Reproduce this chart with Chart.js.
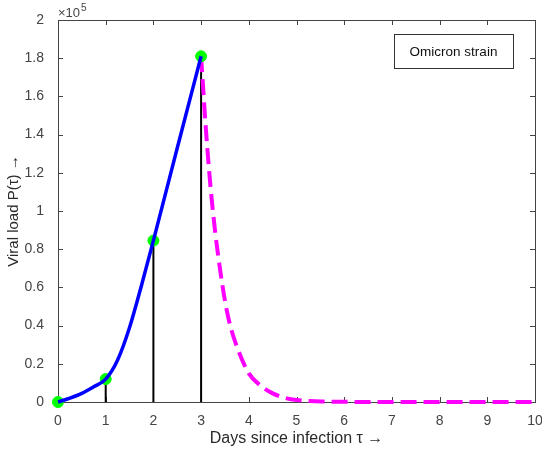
<!DOCTYPE html>
<html>
<head>
<meta charset="utf-8">
<script src="https://cdn.jsdelivr.net/npm/chart.js@4.4.0/dist/chart.umd.min.js"></script>
<style>
  body { margin: 0; background: #fff; }
</style>
</head>
<body>
<canvas id="viralChart" width="542" height="452"></canvas>
<script>
// viral load in units of 10^5
var riseDays = [0, 0.25, 0.5, 0.75, 1, 1.25, 1.5, 1.75, 2, 2.5, 3];
var riseLoad = [0, 0.02, 0.045, 0.08, 0.12, 0.22, 0.39, 0.61, 0.845, 1.33, 1.81];
var decayDays = [3, 3.1, 3.2, 3.3, 3.4, 3.5, 3.6, 3.75, 4, 4.25, 4.5, 4.75, 5, 5.5, 6, 7, 8, 9, 10];
var decayLoad = [1.81, 1.43, 1.12, 0.88, 0.69, 0.53, 0.41, 0.29, 0.15, 0.085, 0.045, 0.022, 0.01, 0.003, 0.001, 0, 0, 0, 0];
var sampleDays = [0, 1, 2, 3];
var sampleLoad = [0, 0.12, 0.845, 1.81];
var xTicks = [0, 1, 2, 3, 4, 5, 6, 7, 8, 9, 10];
var yTicks = [0, 0.2, 0.4, 0.6, 0.8, 1, 1.2, 1.4, 1.6, 1.8, 2];
var legendText = 'Omicron strain';

function pts(xs, ys) {
  return xs.map(function (x, i) { return { x: x, y: ys[i] }; });
}

var datasets = [
  {
    data: pts(riseDays, riseLoad), showLine: true, borderColor: '#0000ff', borderWidth: 3.5,
    pointRadius: 0, cubicInterpolationMode: 'monotone', clip: 8, order: 0
  },
  {
    data: pts(sampleDays, sampleLoad), showLine: false, pointRadius: 5.5,
    backgroundColor: '#00ff00', borderColor: '#00ff00', clip: 8, order: 1
  },
  {
    data: pts(decayDays, decayLoad), showLine: true, borderColor: '#ff00ff', borderWidth: 4,
    borderDash: [16, 7], pointRadius: 0, cubicInterpolationMode: 'monotone', clip: 8, order: 2
  }
];
// vertical stems from the axis up to each sampled point
sampleDays.forEach(function (d, i) {
  if (i === 0) return;
  datasets.push({
    data: [{ x: d, y: 0 }, { x: d, y: sampleLoad[i] }], showLine: true,
    borderColor: '#000', borderWidth: 2, pointRadius: 0, clip: 8, order: 3
  });
});

var boxPlugin = {
  id: 'matlabBox',
  beforeDatasetsDraw: function (chart) {
    var c = chart.ctx, a = chart.chartArea;
    var xs = chart.scales.x, ys = chart.scales.y;
    c.save();
    c.strokeStyle = '#444';
    c.lineWidth = 1;
    c.strokeRect(a.left + 0.5, a.top + 0.5, a.right - a.left, a.bottom - a.top);
    c.beginPath();
    xTicks.forEach(function (t) {
      var px = Math.round(xs.getPixelForValue(t)) + 0.5;
      c.moveTo(px, a.bottom); c.lineTo(px, a.bottom - 5);
      c.moveTo(px, a.top); c.lineTo(px, a.top + 5);
    });
    yTicks.forEach(function (t) {
      var py = Math.round(ys.getPixelForValue(t)) + 0.5;
      c.moveTo(a.left, py); c.lineTo(a.left + 5, py);
      c.moveTo(a.right, py); c.lineTo(a.right - 5, py);
    });
    c.stroke();
    c.restore();
  },
  afterDraw: function (chart) {
    var c = chart.ctx, a = chart.chartArea;
    c.save();
    // exponent label
    c.fillStyle = '#444';
    c.font = '13px "Liberation Sans", Arial, sans-serif';
    c.textBaseline = 'alphabetic';
    c.textAlign = 'left';
    c.fillText('\u00d710', a.left, a.top - 3);
    var w = c.measureText('\u00d710').width;
    c.font = '10px "Liberation Sans", Arial, sans-serif';
    c.fillText('5', a.left + w + 1, a.top - 9);
    // legend box
    var bx = a.right - 141, by = a.top + 14, bw = 119, bh = 34;
    c.fillStyle = '#fff';
    c.fillRect(bx, by, bw, bh);
    c.strokeStyle = '#333';
    c.lineWidth = 1;
    c.strokeRect(bx + 0.5, by + 0.5, bw, bh);
    c.fillStyle = '#111';
    c.font = '13.5px "Liberation Sans", Arial, sans-serif';
    c.textAlign = 'center';
    c.textBaseline = 'middle';
    c.fillText(legendText, bx + bw / 2, by + bh / 2 + 1);
    c.restore();
  }
};

var fam = '"Liberation Sans", Arial, sans-serif';
var tickFont = { family: fam, size: 14 };

new Chart(document.getElementById('viralChart').getContext('2d'), {
  type: 'scatter',
  data: { datasets: datasets },
  options: {
    responsive: false,
    animation: false,
    layout: { padding: { top: 20, right: 7, left: 0, bottom: 0 } },
    plugins: { legend: { display: false }, tooltip: { enabled: false } },
    scales: {
      x: {
        type: 'linear', min: 0, max: 10,
        afterBuildTicks: function (s) { s.ticks = xTicks.map(function (v) { return { value: v }; }); },
        afterFit: function (s) { s.height = 50; s.paddingRight = 0; s.paddingLeft = 0; },
        grid: { display: false }, border: { display: false },
        ticks: { color: '#444', font: tickFont, padding: 3, maxRotation: 0 },
        title: { display: true, text: 'Days since infection \u03c4 \u2192', color: '#2a2a2a',
                 font: { family: fam, size: 16 }, padding: { top: 5 } }
      },
      y: {
        type: 'linear', min: 0, max: 2,
        afterBuildTicks: function (s) { s.ticks = yTicks.map(function (v) { return { value: v }; }); },
        afterFit: function (s) { s.width = 58; s.paddingTop = 0; s.paddingBottom = 0; },
        grid: { display: false }, border: { display: false },
        ticks: {
          color: '#444', font: tickFont, padding: 6,
          callback: function (v) { return String(Number(v.toFixed(1))); }
        },
        title: { display: true, text: 'Viral load P(\u03c4) \u2192', color: '#2a2a2a',
                 font: { family: fam, size: 15 }, padding: { top: 5, bottom: 0 } }
      }
    }
  },
  plugins: [boxPlugin]
});
</script>
</body>
</html>
